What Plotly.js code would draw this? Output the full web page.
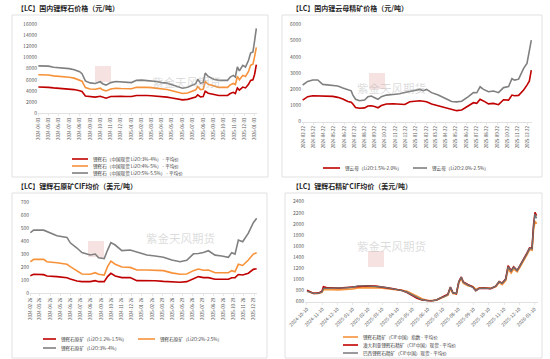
<!DOCTYPE html>
<html><head><meta charset="utf-8">
<script src="https://cdn.plot.ly/plotly-3.0.1.min.js"></script>
<style>html,body{margin:0;padding:0;background:#fff}#chart{width:550px;height:359px}</style>
</head><body><div id="chart"></div>
<script>
// ---------- Panel 1: 国内锂辉石价格 ----------
const dates1 = ['2024-04-03','2024-04-18','2024-05-03','2024-05-18','2024-06-03','2024-06-18','2024-07-03','2024-07-18','2024-08-03','2024-08-10','2024-08-20','2024-09-03','2024-09-18','2024-10-03','2024-10-10','2024-10-20','2024-11-03','2024-11-18','2024-12-03','2024-12-18','2025-01-03','2025-01-18','2025-02-03','2025-02-18','2025-03-03','2025-03-18','2025-04-03','2025-04-18','2025-05-03','2025-05-18','2025-06-03','2025-06-18','2025-07-03','2025-07-12','2025-07-18','2025-07-26','2025-08-03','2025-08-09','2025-08-18','2025-09-03','2025-09-18','2025-10-03','2025-10-14','2025-10-22','2025-10-31','2025-11-06','2025-11-12','2025-11-18','2025-11-23','2025-11-28','2025-12-06','2025-12-15','2025-12-21','2025-12-28','2026-01-02','2026-01-05','2026-01-07'];
const red1 = [4700,4700,4650,4550,4500,4450,4400,4250,4050,3900,3100,2950,2900,3050,2850,2700,3000,3050,3050,3000,3000,3200,3250,3200,3150,3100,3000,2900,2750,2550,2400,2500,2700,2900,3300,2950,3000,3950,3600,3350,3200,3200,3200,3550,3750,3550,4550,4150,4500,4700,4550,5200,5900,6000,7000,8300,8700];
const orange1 = [6900,6900,6850,6700,6650,6600,6450,6300,6000,5750,4600,4350,4300,4500,4200,4000,4350,4500,4450,4400,4400,4650,4700,4650,4600,4500,4350,4250,4050,3750,3550,3650,3950,4200,4800,4250,4300,5700,5200,4850,4650,4650,4650,5100,5350,5150,6600,6000,6500,6800,6600,7500,8600,8800,10200,11600,11800];
const grey1 = [8500,8500,8450,8250,8200,8150,8000,7800,7450,7100,5800,5450,5350,5650,5300,5050,5500,5700,5650,5500,5500,5900,5950,5850,5800,5700,5500,5400,5100,4750,4500,4650,5000,5300,6100,5400,5500,7200,6600,6100,5900,5900,5900,6500,6800,6500,8300,7600,8200,8600,8300,9500,10800,11000,13000,15000,15200];
const names1 = ['锂辉石（中国现货 Li2O:3%-4%） - 平均价','锂辉石（中国现货 Li2O:4%-5%） - 平均价','锂辉石（中国现货 Li2O:5%-5.5%） - 平均价'];

// ---------- Panel 2: 国内锂云母精矿价格 ----------
const dates2 = ['2024-02-19','2024-03-05','2024-03-20','2024-04-04','2024-04-19','2024-05-04','2024-05-19','2024-06-03','2024-06-18','2024-07-03','2024-07-13','2024-07-18','2024-07-26','2024-08-07','2024-08-22','2024-09-01','2024-09-11','2024-09-21','2024-10-01','2024-10-11','2024-10-26','2024-11-15','2024-12-05','2024-12-20','2025-01-04','2025-01-19','2025-02-03','2025-02-13','2025-02-23','2025-03-10','2025-03-30','2025-04-19','2025-05-09','2025-05-24','2025-06-08','2025-06-28','2025-07-13','2025-07-23','2025-08-02','2025-08-12','2025-08-27','2025-09-11','2025-09-26','2025-10-11','2025-10-26','2025-11-05','2025-11-13','2025-11-25','2025-12-10','2025-12-20','2025-12-27','2026-01-02'];
const red2 = [1330,1540,1600,1590,1580,1580,1560,1500,1400,1240,1200,1090,880,830,850,970,980,940,860,1000,1090,1110,1100,1060,1230,1280,1290,1260,1230,1090,980,870,760,680,720,970,1170,1130,1380,1280,1100,1130,1050,1350,1330,1640,1600,1620,1950,2250,2500,3180];
const grey2 = [2260,2480,2570,2570,2300,2260,2260,2200,2080,1990,1900,1640,1380,1290,1330,1540,1580,1480,1380,1540,1640,1680,1720,1800,1870,1900,1990,1910,1990,1790,1640,1440,1240,1220,1260,1540,1790,1780,2150,1990,1850,1890,1790,2100,2160,2650,2560,2620,3290,3590,4400,5030];
const names2 = ['锂云母（Li2O:1.5%-2.0%）','锂云母（Li2O:2.0%-2.5%）'];

// ---------- Panel 3: 锂辉石原矿CIF均价 ----------
const dates3 = ['2024-02-26','2024-03-07','2024-04-06','2024-04-16','2024-05-16','2024-06-15','2024-06-25','2024-07-15','2024-07-30','2024-08-24','2024-09-08','2024-09-18','2024-10-05','2024-10-15','2024-10-25','2024-11-07','2024-11-27','2024-12-22','2025-01-11','2025-02-10','2025-03-07','2025-04-01','2025-04-26','2025-05-21','2025-06-10','2025-06-30','2025-07-15','2025-07-30','2025-08-14','2025-09-03','2025-09-23','2025-10-13','2025-10-23','2025-11-02','2025-11-12','2025-11-25','2025-12-12','2025-12-27','2026-01-06'];
const red3 = [136,147,144,134,129,120,111,95,90,90,98,90,90,129,154,134,121,121,98,98,97,92,86,85,90,116,129,121,121,108,108,108,120,121,145,141,155,185,190];
const orange3 = [244,262,262,244,236,224,206,175,149,147,159,147,141,206,249,225,203,200,180,180,180,175,158,147,149,175,188,178,180,159,159,159,175,167,224,215,257,303,314];
const grey3 = [468,488,488,476,445,432,390,350,315,296,303,275,268,334,392,373,330,335,318,296,288,278,257,244,255,305,308,315,329,295,288,278,314,303,411,398,465,545,580];
const names3 = ['锂辉石原矿（Li2O:1.2%-1.5%）','锂辉石原矿（Li2O:2%-2.5%）','锂辉石原矿（Li2O:3%-4%）'];

// ---------- Panel 4: 锂辉石精矿CIF均价 ----------
const dates4 = ['2024-10-10','2024-10-17','2024-10-23','2024-11-02','2024-11-09','2024-11-12','2024-11-19','2024-11-28','2024-12-12','2024-12-28','2025-01-10','2025-01-20','2025-02-06','2025-02-25','2025-03-11','2025-03-27','2025-04-09','2025-04-19','2025-04-29','2025-05-09','2025-05-19','2025-05-29','2025-06-08','2025-06-17','2025-06-27','2025-07-04','2025-07-14','2025-07-20','2025-07-25','2025-07-30','2025-08-06','2025-08-11','2025-08-16','2025-08-20','2025-08-29','2025-09-08','2025-09-14','2025-09-21','2025-10-01','2025-10-14','2025-10-24','2025-10-31','2025-11-06','2025-11-13','2025-11-18','2025-11-24','2025-11-29','2025-12-06','2025-12-12','2025-12-19','2025-12-26','2025-12-31','2026-01-05','2026-01-08','2026-01-11','2026-01-14'];
const orange4 = [790,765,750,750,770,820,815,820,815,820,830,850,855,855,845,830,815,805,785,740,690,650,625,618,630,660,690,720,840,750,740,940,1020,935,890,870,820,850,850,840,870,945,910,980,1190,1120,1190,1140,1230,1330,1450,1540,1530,1900,2050,2000];
const red4 = [805,775,750,755,790,870,850,850,845,855,865,885,885,880,865,840,820,800,765,710,660,630,615,612,630,665,700,735,865,765,745,965,1045,955,910,865,800,840,845,835,880,965,935,1010,1250,1160,1230,1165,1255,1355,1480,1570,1560,1980,2210,2150];
const grey4 = [790,770,750,750,775,840,840,845,840,850,860,885,885,880,865,840,820,800,770,720,670,635,620,615,630,665,695,730,860,760,750,960,1040,950,905,860,800,840,845,835,880,960,930,1000,1230,1150,1220,1160,1250,1350,1470,1560,1550,1950,2180,2100];
const names4 = ['锂辉石精矿（CIF中国）指数 - 平均价','澳大利亚锂辉石精矿（CIF中国）现货 - 平均价','巴西锂辉石精矿（CIF中国）现货 - 平均价'];

const titles = ['【LC】国内锂辉石价格（元/吨）','【LC】国内锂云母精矿价格（元/吨）','【LC】锂辉石原矿CIF均价（美元/吨）','【LC】锂辉石精矿CIF均价（美元/吨）'];

// ---------- helpers ----------
const W = 550, H = 359;
const px = x => x / W, py = y => 1 - y / H;
const FONT = '"Noto Sans CJK SC", "Noto Sans", sans-serif';
const RED = '#c00000', ORANGE = '#f7923a', GREY = '#808080';

function tr(x, y, color, xa, ya, name, w) {
  return {type:'scatter', mode:'lines', x, y, xaxis:xa, yaxis:ya, name,
          line:{color, width:w || 1.6}, hoverinfo:'skip', showlegend:false};
}
const traces = [
  tr(dates1, red1, RED, 'x', 'y', names1[0]),
  tr(dates1, orange1, ORANGE, 'x', 'y', names1[1]),
  tr(dates1, grey1, GREY, 'x', 'y', names1[2]),
  tr(dates2, red2, RED, 'x2', 'y2', names2[0]),
  tr(dates2, grey2, GREY, 'x2', 'y2', names2[1]),
  tr(dates3, red3, RED, 'x3', 'y3', names3[0]),
  tr(dates3, orange3, ORANGE, 'x3', 'y3', names3[1]),
  tr(dates3, grey3, GREY, 'x3', 'y3', names3[2]),
  tr(dates4, orange4, ORANGE, 'x4', 'y4', names4[0], 1.8),
  tr(dates4, red4, RED, 'x4', 'y4', names4[1], 1.6),
  tr(dates4, grey4, '#6f6f6f', 'x4', 'y4', names4[2], 1.4)
];

function xax(domain, range, tick0, angle, fs) {
  return {type:'date', domain, range, tick0, dtick:'M1', tickformat:'%Y-%m-%d',
    tickangle:angle, tickfont:{family:FONT, size:fs, color:'#595959'},
    showline:true, linecolor:'#d9d9d9', linewidth:0.8, ticks:'outside', ticklen:2,
    tickcolor:'#d9d9d9', tickwidth:0.6, showgrid:false, zeroline:false, fixedrange:true};
}
function yax(domain, range, dtick, anchor) {
  return {domain, range, dtick, tickformat:'d', anchor, showgrid:false, zeroline:false,
    showline:false, ticks:'', tickfont:{family:FONT, size:5, color:'#595959'}, fixedrange:true};
}

const layout = {
  width:W, height:H, margin:{l:0,r:0,t:0,b:0}, paper_bgcolor:'#fff', plot_bgcolor:'rgba(0,0,0,0)',
  showlegend:false, font:{family:FONT},
  xaxis:  Object.assign(xax([px(38),px(257)], ['2024-04-02','2026-01-09'], '2024-04-03', -90, 4.3), {anchor:'y'}),
  yaxis:  yax([py(113.3), py(24)], [0,16000], 2000, 'x'),
  xaxis2: Object.assign(xax([px(302),px(532)], ['2024-02-17','2026-01-04'], '2024-02-22', -90, 4.3), {anchor:'y2'}),
  yaxis2: yax([py(121.7), py(24.3)], [0,6000], 1000, 'x2'),
  xaxis3: Object.assign(xax([px(30),px(257)], ['2024-02-25','2026-01-07'], '2024-02-26', -90, 4.3), {anchor:'y3'}),
  yaxis3: yax([py(293.3), py(202.7)], [0,700], 100, 'x3'),
  xaxis4: Object.assign(xax([px(305),px(538)], ['2024-10-06','2026-01-17'], '2024-10-10', -45, 4.8), {anchor:'y4'}),
  yaxis4: yax([py(301.7), py(201.7)], [600,2400], 200, 'x4'),
  shapes:[], annotations:[]
};

// frames
[[12,15,268,177],[282,15,542,177],[12,193,267,358],[285,193,542,358]].forEach(b => {
  layout.shapes.push({type:'rect', xref:'paper', yref:'paper', x0:px(b[0]), x1:px(b[2]), y0:py(b[3]), y1:py(b[1]),
    line:{color:'#d9d9d9', width:0.8}, fillcolor:'rgba(0,0,0,0)', layer:'below'});
});

// titles
[[15,7.5],[290,7.5],[15,186],[290,186]].forEach((p,i) => {
  layout.annotations.push({xref:'paper', yref:'paper', x:px(p[0]), y:py(p[1]), xanchor:'left', yanchor:'middle',
    showarrow:false, text:'<b>'+titles[i]+'</b>', font:{family:FONT, size:7, color:'#262626'}});
});

// watermarks (logo block + name)
[[103,74,150,72],[377,81,428,78],[96,249,144,248],[376,259,428,256]].forEach(w => {
  layout.shapes.push({type:'rect', xref:'paper', yref:'paper', x0:px(w[0]-8), x1:px(w[0]+8), y0:py(w[1]+8), y1:py(w[1]-8),
    line:{width:0}, fillcolor:'rgba(215,110,110,0.2)', layer:'below'});
  layout.annotations.push({xref:'paper', yref:'paper', x:px(w[2]), y:py(w[3]), showarrow:false,
    text:'紫金天风期货', font:{family:FONT, size:11.5, color:'rgba(175,175,175,0.45)'}});
});

// legends
function leg(x0, len, y, color, text) {
  layout.shapes.push({type:'line', xref:'paper', yref:'paper', x0:px(x0), x1:px(x0+len), y0:py(y), y1:py(y),
    line:{color, width:1.6}});
  layout.annotations.push({xref:'paper', yref:'paper', x:px(x0+len+3), y:py(y), xanchor:'left', yanchor:'middle',
    showarrow:false, text, font:{family:FONT, size:4.6, color:'#404040'}});
}
leg(72,16,159,RED,names1[0]); leg(72,16,166,ORANGE,names1[1]); leg(72,16,173,GREY,names1[2]);
leg(323,17,168,RED,names2[0]); leg(413,14,168,GREY,names2[1]);
leg(43,13,339,RED,names3[0]); leg(138,17,339,ORANGE,names3[1]); leg(43,13,348,GREY,names3[2]);
leg(343,15,337,ORANGE,names4[0]); leg(343,15,345,RED,names4[1]); leg(343,15,353,GREY,names4[2]);

Plotly.newPlot('chart', traces, layout, {staticPlot:true, displayModeBar:false});
</script>
</body></html>
